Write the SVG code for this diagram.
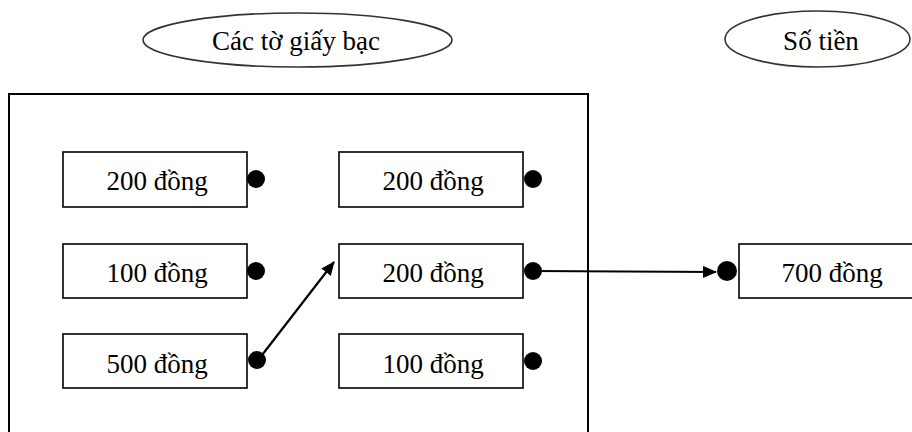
<svg xmlns="http://www.w3.org/2000/svg" width="912" height="432" viewBox="0 0 912 432">
<style>
.t{font-family:'Liberation Serif','Times New Roman','DejaVu Serif',serif;font-size:27px;fill:#000;text-anchor:middle}
.box{fill:#fff;stroke:#000;stroke-width:1.6}
.ell{fill:#fff;stroke:#333;stroke-width:1.6}
.dot{fill:#000}
.con{stroke:#000;stroke-width:2.2;fill:none}
</style>
<defs>
<marker id="ah2" viewBox="0 0 14 12" refX="13" refY="6" markerWidth="14" markerHeight="12" markerUnits="userSpaceOnUse" orient="auto">
<path d="M0,0 L14,6 L0,12 z" fill="#000"/>
</marker>
</defs>
<g id="label-bills">
<ellipse class="ell" cx="297.5" cy="40" rx="154.5" ry="27"/>
<text class="t" x="296" y="50" font-family="Liberation Serif, serif">Các tờ giấy bạc</text>
</g>
<g id="label-amount">
<ellipse class="ell" cx="817.5" cy="39" rx="92.5" ry="28"/>
<text class="t" x="821" y="50" font-family="Liberation Serif, serif">Số tiền</text>
</g>
<g id="container">
<path d="M9,440 L9,94 L588,94 L588,440" fill="none" stroke="#000" stroke-width="2"/>
</g>
<g id="n1">
<rect class="box" x="63" y="152" width="184" height="55"/>
<text class="t" x="157" y="190">200 đồng</text>
<circle class="dot" cx="256" cy="179" r="9"/>
</g>
<g id="n2">
<rect class="box" x="63" y="244" width="184" height="54"/>
<text class="t" x="157" y="282">100 đồng</text>
<circle class="dot" cx="256" cy="271" r="9"/>
</g>
<g id="n3">
<rect class="box" x="63" y="334" width="184" height="54"/>
<text class="t" x="157" y="373">500 đồng</text>
<circle class="dot" cx="257" cy="360" r="9"/>
</g>
<g id="n4">
<rect class="box" x="339" y="152" width="184" height="55"/>
<text class="t" x="433" y="190">200 đồng</text>
<circle class="dot" cx="533" cy="179" r="9"/>
</g>
<g id="n5">
<rect class="box" x="339" y="244" width="184" height="54"/>
<text class="t" x="433" y="282">200 đồng</text>
<circle class="dot" cx="533" cy="271" r="9"/>
</g>
<g id="n6">
<rect class="box" x="339" y="334" width="184" height="54"/>
<text class="t" x="433" y="373">100 đồng</text>
<circle class="dot" cx="533" cy="361" r="9"/>
</g>
<g id="n7">
<rect class="box" x="739" y="244" width="184" height="54"/>
<text class="t" x="832" y="282">700 đồng</text>
<circle class="dot" cx="727" cy="271" r="10"/>
</g>
<g id="connectors">
<line class="con" x1="259" y1="359" x2="334" y2="262" marker-end="url(#ah2)"/>
<line class="con" x1="533" y1="271" x2="716" y2="272" marker-end="url(#ah2)"/>
</g>
</svg>
